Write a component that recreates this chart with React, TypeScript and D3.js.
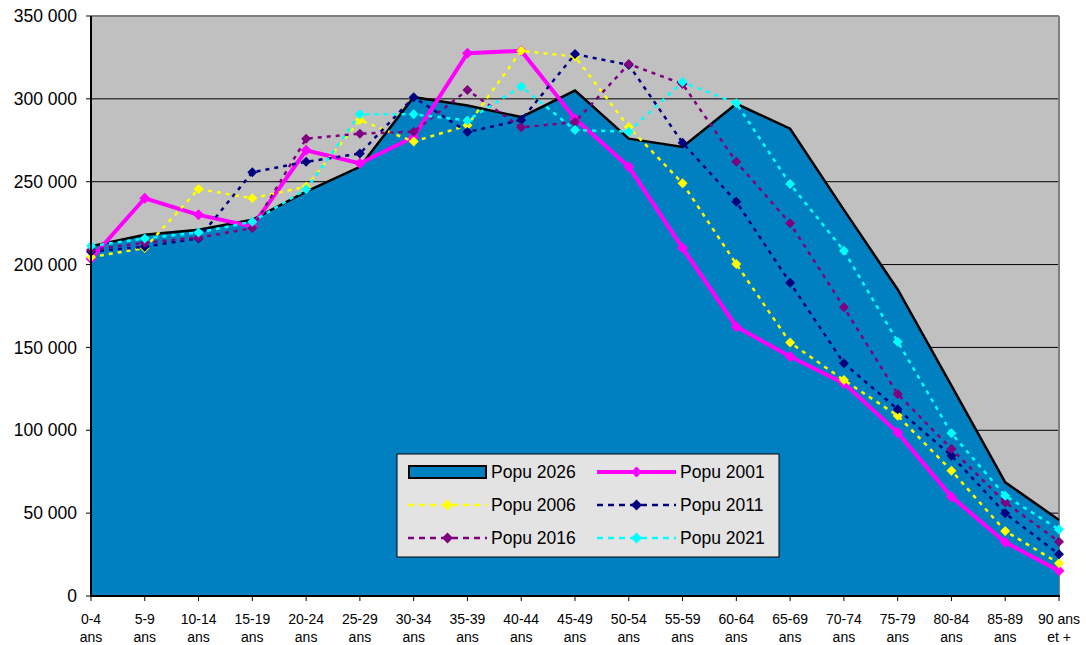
import React from "react";
import * as d3 from "d3";

const categories = ["0-4|ans","5-9|ans","10-14|ans","15-19|ans","20-24|ans","25-29|ans","30-34|ans","35-39|ans","40-44|ans","45-49|ans","50-54|ans","55-59|ans","60-64|ans","65-69|ans","70-74|ans","75-79|ans","80-84|ans","85-89|ans","90 ans|et +"];

const popu2026 = [211000,218000,221000,227000,244000,259000,301000,296000,289000,305000,276000,271000,297000,282000,233000,185000,127000,68600,45900];
const popu2001 = [203500,240000,230000,223000,269000,261000,277000,327500,329000,288000,259000,210000,162500,144500,128300,98600,59900,32400,15300];
const popu2006 = [204500,210000,245600,240000,247000,287200,274200,284000,329000,325500,283000,249000,200300,152900,130300,108800,75600,39200,19700];
const popu2011 = [207800,210800,215800,255700,262000,267000,301000,280000,287200,327000,320500,273500,237900,189000,140400,112700,84700,49900,25200];
const popu2016 = [208800,213200,216200,222000,276000,279000,280200,305300,282800,286000,321000,309000,262000,224900,174200,121900,88700,56500,32800];
const popu2021 = [211200,215800,219400,225900,245400,290700,290700,287000,307400,281200,280200,310200,297300,248600,208400,153500,98200,60500,40200];

const yTicks = [0,50000,100000,150000,200000,250000,300000,350000];
const yTickLabels = ["0","50 000","100 000","150 000","200 000","250 000","300 000","350 000"];

const lineSeries = [
  { name: "Popu 2001", values: popu2001, color: "#FF00FF", width: 4, dash: null },
  { name: "Popu 2006", values: popu2006, color: "#FFFF00", width: 2.5, dash: "4,5" },
  { name: "Popu 2011", values: popu2011, color: "#000080", width: 2.5, dash: "4,5" },
  { name: "Popu 2016", values: popu2016, color: "#800080", width: 2.5, dash: "4,5" },
  { name: "Popu 2021", values: popu2021, color: "#00FFFF", width: 2.5, dash: "4,5" },
];

const W = 1086, H = 645;
const L = 91, R = 1059, T = 16, B = 596;
const FONT = "'Liberation Sans', Arial, sans-serif";

function Diamond({ x, y, r, color }) {
  return <path d={`M${x},${y - r}L${x + r},${y}L${x},${y + r}L${x - r},${y}Z`} fill={color} />;
}

export default function App() {
  const x = d3.scalePoint<string>().domain(categories).range([L, R]);
  const y = d3.scaleLinear().domain([0, 350000]).range([B, T]);

  const area = d3.area<number>()
    .x((_, i) => x(categories[i])!)
    .y0(y(0))
    .y1((d) => y(d));
  const line = d3.line<number>()
    .x((_, i) => x(categories[i])!)
    .y((d) => y(d));

  const legendItems = [
    { name: "Popu 2026", kind: "area" },
    { name: "Popu 2001", s: lineSeries[0] },
    { name: "Popu 2006", s: lineSeries[1] },
    { name: "Popu 2011", s: lineSeries[2] },
    { name: "Popu 2016", s: lineSeries[3] },
    { name: "Popu 2021", s: lineSeries[4] },
  ];
  const legX = 397, legY = 454, legW = 382, legH = 103;
  const colX = [408, 597];
  const rowY = [472, 505, 538];

  return (
    <svg width={W} height={H} style={{ position: "absolute", left: 0, top: 0, background: "#fff" }} fontFamily={FONT}>
      <rect x={L} y={T} width={R - L} height={B - T} fill="#C0C0C0" />
      {yTicks.slice(1).map((t) => (
        <line key={t} x1={L} x2={R} y1={y(t)} y2={y(t)} stroke={t === 350000 ? "#808080" : "#000"} strokeWidth={t === 350000 ? 2 : 1} />
      ))}
      <line x1={R} x2={R} y1={T} y2={B} stroke="#808080" strokeWidth={2} />
      <path d={area(popu2026)!} fill="#0080C0" />
      <path d={line(popu2026)!} fill="none" stroke="#000" strokeWidth={2.5} />
      {lineSeries.map((s) => (
        <g key={s.name}>
          <path d={line(s.values)!} fill="none" stroke={s.color} strokeWidth={s.width} strokeDasharray={s.dash || undefined} />
          {s.values.map((v, i) => (
            <Diamond key={i} x={x(categories[i])!} y={y(v)} r={s.width > 3 ? 5.5 : 5} color={s.color} />
          ))}
        </g>
      ))}
      {/* axes */}
      <line x1={L} x2={L} y1={T} y2={B + 1} stroke="#000" strokeWidth={2} />
      <line x1={L - 1} x2={R + 1} y1={B} y2={B} stroke="#000" strokeWidth={2} />
      {yTicks.map((t, i) => (
        <g key={t}>
          <line x1={L - 5} x2={L} y1={y(t)} y2={y(t)} stroke="#000" strokeWidth={1} />
          <text x={L - 14} y={y(t)} dy="0.35em" textAnchor="end" fontSize={17.5} fill="#000">{yTickLabels[i]}</text>
        </g>
      ))}
      {categories.map((c) => {
        const [a, b] = c.split("|");
        const cx = x(c)!;
        return (
          <g key={c}>
            <line x1={cx} x2={cx} y1={B} y2={B + 5} stroke="#000" strokeWidth={1} />
            <text x={cx} y={624} textAnchor="middle" fontSize={14} fill="#000">{a}</text>
            <text x={cx} y={642} textAnchor="middle" fontSize={14} fill="#000">{b}</text>
          </g>
        );
      })}
      {/* legend */}
      <rect x={legX} y={legY} width={legW} height={legH} fill="#E3E3E3" stroke="#000" strokeWidth={1} />
      {legendItems.map((it, i) => {
        const cx0 = colX[i % 2];
        const ry = rowY[Math.floor(i / 2)];
        const sw = 79;
        return (
          <g key={it.name}>
            {it.kind === "area" ? (
              <rect x={cx0 + 1} y={ry - 6} width={sw - 2} height={12} fill="#0080C0" stroke="#000" strokeWidth={2} />
            ) : (
              <g>
                <line x1={cx0} x2={cx0 + sw} y1={ry} y2={ry} stroke={it.s.color} strokeWidth={it.s.width} strokeDasharray={it.s.dash ? "6,5" : undefined} />
                <Diamond x={cx0 + sw / 2} y={ry} r={5.5} color={it.s.color} />
              </g>
            )}
            <text x={cx0 + sw + 4} y={ry} dy="0.35em" fontSize={17.5} fill="#000">{it.name}</text>
          </g>
        );
      })}
    </svg>
  );
}
